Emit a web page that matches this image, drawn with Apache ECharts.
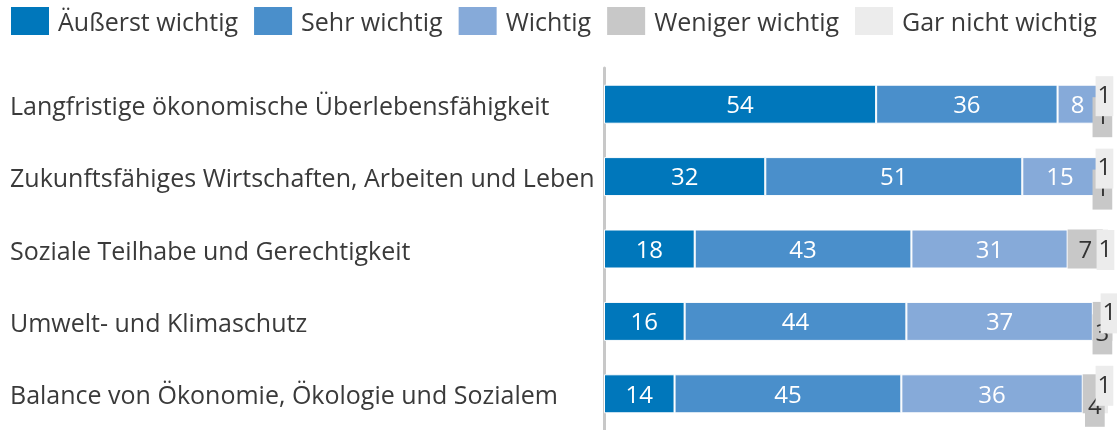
<!DOCTYPE html>
<html><head><meta charset="utf-8">
<script src="https://cdn.jsdelivr.net/npm/echarts@6/dist/echarts.min.js"></script>
<style>html,body{margin:0;padding:0;background:#fff}#c{width:1117px;height:430px}</style>
</head><body><div id="c"></div>
<script>
const categories = ['Langfristige ökonomische Überlebensfähigkeit', 'Zukunftsfähiges Wirtschaften, Arbeiten und Leben', 'Soziale Teilhabe und Gerechtigkeit', 'Umwelt- und Klimaschutz', 'Balance von Ökonomie, Ökologie und Sozialem'];
const seriesNames = ['Äußerst wichtig', 'Sehr wichtig', 'Wichtig', 'Weniger wichtig', 'Gar nicht wichtig'];
const aeusserst = [54, 32, 18, 16, 14];
const sehr = [36, 51, 43, 44, 45];
const wichtig = [8, 15, 31, 37, 36];
const weniger = [1, 1, 7, 3, 4];
const garNicht = [1, 1, 1, 1, 1];

const colors = ['#0077bb', '#4a8fcb', '#86aad9', '#c8c8c8', '#ececec'];
const FONT = 'Open Sans';
const FS = 25;
const textColor = '#3a3a3a';

function mkSeries(idx, values) {
  const data = values.map((v, i) => {
    const item = { value: v };
    if (idx === 3 && v < 5) {
      item.label = { offset: [2, 13], backgroundColor: colors[3], padding: [8, 3] };
    }
    if (idx === 4) {
      if (weniger[i] < 5) {
        item.label = { offset: [-1, -8], backgroundColor: colors[4], padding: [8, 2] };
      } else {
        item.label = { offset: [0, 1], backgroundColor: colors[4], padding: [8, 2] };
      }
    }
    return item;
  });
  return {
    name: seriesNames[idx], type: 'bar', stack: 'total', barWidth: 39,
    data: data,
    itemStyle: { color: colors[idx], borderColor: '#fff', borderWidth: idx < 3 ? 1 : 0 },
    label: {
      show: true, position: 'inside', offset: [0, 2], fontFamily: FONT, fontSize: 24,
      color: idx < 3 ? '#fff' : '#333'
    },
    emphasis: { disabled: true }
  };
}

const chart = echarts.init(document.getElementById('c'));
chart.setOption({
  animation: false,
  color: colors,
  legend: {
    left: 11, top: 7, padding: 0, itemWidth: 38, itemHeight: 28, itemGap: 16,
    icon: 'rect', itemStyle: { borderWidth: 0 },
    formatter: n => '{a|' + n + '}',
    textStyle: {
      fontFamily: FONT, fontSize: FS, color: textColor,
      rich: { a: { fontFamily: FONT, fontSize: FS, color: textColor, padding: [6, 0, 0, 4] } }
    },
    data: seriesNames
  },
  grid: { left: 604, top: 68, width: 509, height: 368 },
  xAxis: { type: 'value', min: 0, max: 101, show: false },
  yAxis: {
    type: 'category', inverse: true, data: categories,
    axisLine: { show: true, lineStyle: { color: '#c8c8c8', width: 3 } },
    axisTick: { show: false },
    axisLabel: {
      align: 'left', margin: 594, fontFamily: FONT, fontSize: FS, color: textColor,
      formatter: v => '{a|' + v + '}',
      rich: { a: { fontFamily: FONT, fontSize: FS, color: textColor, padding: [7, 0, 0, 0] } }
    }
  },
  series: [
    mkSeries(0, aeusserst), mkSeries(1, sehr), mkSeries(2, wichtig),
    mkSeries(3, weniger), mkSeries(4, garNicht)
  ]
});
</script></body></html>
